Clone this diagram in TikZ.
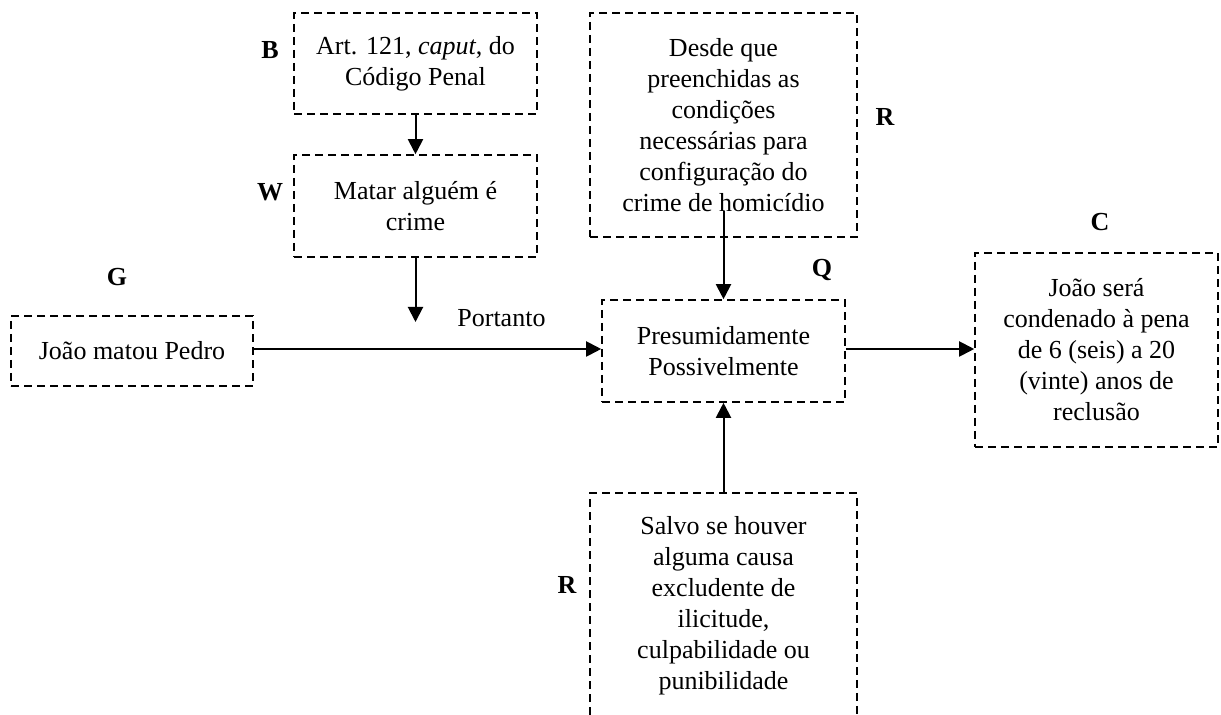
\documentclass[tikz,border=0pt]{standalone}
\usepackage{fontspec}
\setmainfont{Liberation Serif}
\usetikzlibrary{arrows.meta}
\begin{document}
\begin{tikzpicture}[x=0.5pt,y=-0.5pt,
  font=\fontsize{13pt}{15.5pt}\selectfont,
  dbox/.style={draw, line width=0.8pt, dash pattern=on 4pt off 2.5pt, align=center, inner sep=0pt},
  nobox/.style={align=center, inner sep=0pt},
  lbl/.style={font=\fontsize{13pt}{15.5pt}\selectfont\bfseries, inner sep=0pt},
  arr/.style={line width=1pt, -{Triangle[length=7.5pt,width=7.5pt]}}]
\useasboundingbox (0,0) rectangle (1221,715);
% boxes
\node[dbox, minimum width=121.5pt, minimum height=50.5pt] (b) at (415.5,63.5) {Art. 121, \textit{caput}, do\\Código Penal};
\node[dbox, minimum width=121.5pt, minimum height=51pt] (w) at (415.5,206) {Matar alguém é\\crime};
\node[dbox, minimum width=121pt, minimum height=35pt] (g) at (132,351) {João matou Pedro};
\node[dbox, minimum width=121.5pt, minimum height=51pt] (q) at (723.5,351) {Presumidamente\\Possivelmente};
\node[dbox, minimum width=133.5pt, minimum height=112pt] (rtop) at (723.5,125) {Desde que\\preenchidas as\\condições\\necessárias para\\configuração do\\crime de homicídio};
\node[dbox, minimum width=121.5pt, minimum height=97pt] (c) at (1096.5,350) {João será\\condenado à pena\\de 6 (seis) a 20\\(vinte) anos de\\reclusão};
\node[nobox] (rbot) at (723.5,606) {Salvo se houver\\alguma causa\\excludente de\\ilicitude,\\culpabilidade ou\\punibilidade};
\coordinate (rbotL) at (590,715);
\coordinate (rbotTL) at (590,493);
\coordinate (rbottop) at (723.5,493);
\coordinate (rbotTR) at (857,493);
\coordinate (rbotR) at (857,715);
\draw[line width=0.8pt, dash pattern=on 4pt off 2.5pt] (rbotL) -- (rbotTL) -- (rbotTR) -- (rbotR);
% labels
\node[lbl] (lb) at (270,50) {B};
\node[lbl] (lw) at (270,192) {W};
\node[lbl] (lg) at (117,277) {G};
\node[lbl] (lq) at (822,270) {Q};
\node[lbl] (lr1) at (885,117) {R};
\node[lbl] (lr2) at (567,585) {R};
\node[lbl] (lc) at (1100,222) {C};
\node[nobox, anchor=west] (port) at (457,318) {Portanto};
% connectors
\coordinate (wend) at (415.5,322);
\draw[arr] (b.south) -- (w.north);
\draw[arr] (w.south) -- (wend);
\draw[arr] (g.east |- 0,349) -- (q.west |- 0,349);
\draw[arr] (q.east |- 0,349) -- (c.west |- 0,349);
\draw[arr] ([yshift=13.5pt]rtop.south) -- (q.north);
\draw[arr] (rbottop) -- (q.south);
\end{tikzpicture}
\end{document}
